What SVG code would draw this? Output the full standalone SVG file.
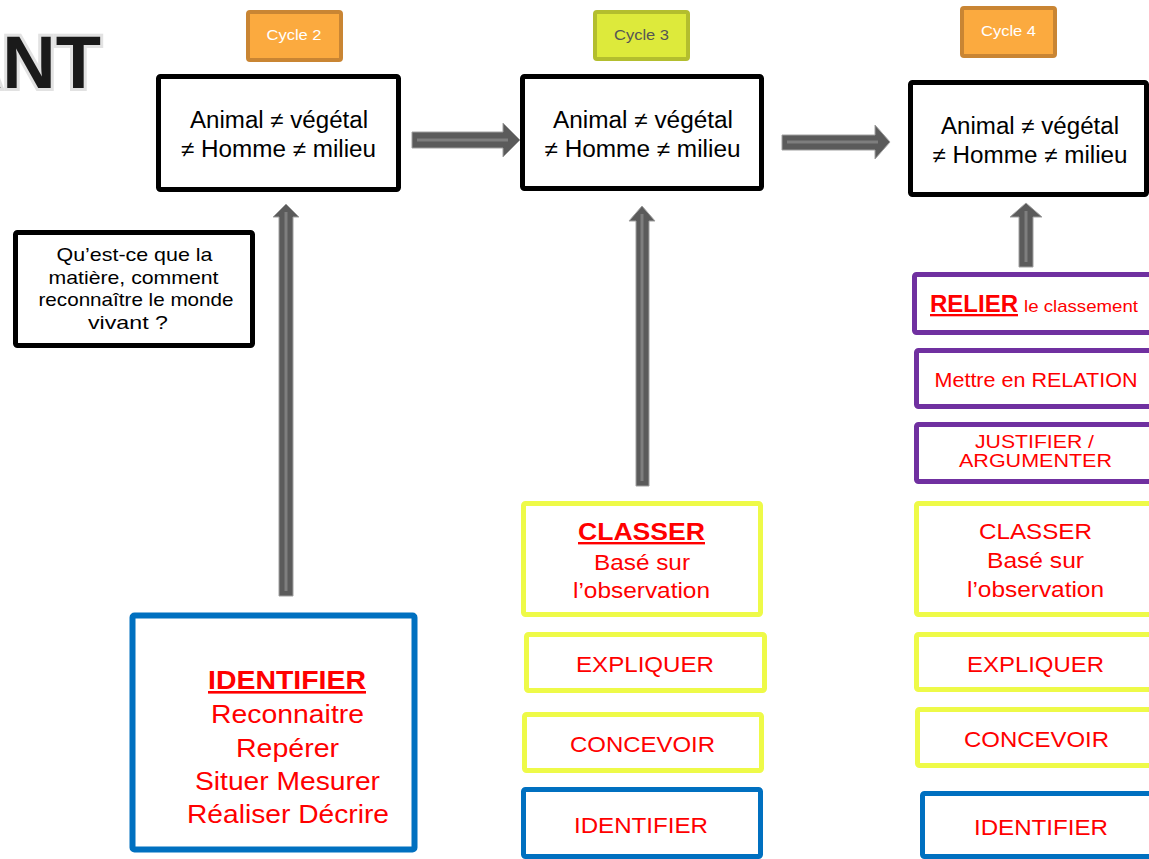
<svg xmlns="http://www.w3.org/2000/svg" width="1149" height="859" viewBox="0 0 1149 859">
<style>
text{font-family:"Liberation Sans",Arial,sans-serif}
.blk{fill:#fff;stroke:#000;stroke-width:5}
.yel{fill:#fff;stroke:#EEFA48;stroke-width:5}
.blu{fill:#fff;stroke:#0070C0;stroke-width:5}
.pur{fill:#fff;stroke:#7030A0;stroke-width:5}
.cyc{fill:#FBAA3F;stroke:#C98533;stroke-width:4}
.cyc3{fill:#DDEA3B;stroke:#B3BE2E;stroke-width:4}
.ct{fill:#fff;font-size:14.5px;text-anchor:middle}
.bt{fill:#000;font-size:23px;text-anchor:middle}
.qt{fill:#000;font-size:19px;text-anchor:middle}
.rt{fill:#FF0000;text-anchor:middle}
.u{font-weight:bold;text-decoration:underline}
.arrow{fill:#5B5B5B;stroke:#A0A0A0;stroke-width:1}
.hl{stroke:#7E7E7E;stroke-width:3;fill:none}
</style>
<g id="title">
<text x="101" y="88" font-size="74" font-weight="bold" text-anchor="end" fill="none" stroke="#E2E2E2" stroke-width="6">ANT</text>
<text x="101" y="88" font-size="74" font-weight="bold" text-anchor="end" fill="#1A1A1A">ANT</text>
<text x="16" y="-1" font-size="60" font-weight="bold" fill="#1A1A1A">C</text>
</g>
<g id="connectors">
<polygon class="arrow" points="412,132 503,132 503,123 520,140 503,157 503,148 412,148"/>
<line class="hl" x1="417" y1="140" x2="508" y2="140"/>
<polygon class="arrow" points="782,135 875,135 875,125 890,142 875,159 875,150 782,150"/>
<line class="hl" x1="787" y1="142" x2="878" y2="142"/>
<polygon class="arrow" points="279,596 279,217 273,217 286,204 299,217 293,217 293,596"/>
<line class="hl" x1="286" y1="591" x2="286" y2="212"/>
<polygon class="arrow" points="636,486 636,221 629,221 642,206 655,221 649,221 649,486"/>
<line class="hl" x1="642" y1="481" x2="642" y2="214"/>
<polygon class="arrow" points="1019,267 1019,217 1010,217 1026,203 1042,217 1033,217 1033,267"/>
<line class="hl" x1="1026" y1="262" x2="1026" y2="211"/>
</g>
<g id="cycle2">
<rect class="cyc" x="248" y="12" width="93" height="48" rx="2"/>
<text class="ct" x="294" y="40" textLength="55" lengthAdjust="spacingAndGlyphs">Cycle 2</text>
</g>
<g id="cycle3">
<rect class="cyc3" x="595" y="12" width="93" height="47" rx="2"/>
<text class="ct" x="641.5" y="40" style="fill:#555" textLength="55" lengthAdjust="spacingAndGlyphs">Cycle 3</text>
</g>
<g id="cycle4">
<rect class="cyc" x="962" y="8" width="93" height="48" rx="2"/>
<text class="ct" x="1008.5" y="36" textLength="55" lengthAdjust="spacingAndGlyphs">Cycle 4</text>
</g>
<g id="box-c2">
<rect class="blk" x="158.5" y="76.5" width="240" height="113" rx="2"/>
<text class="bt" x="279" y="128" textLength="178" lengthAdjust="spacingAndGlyphs">Animal ≠ végétal</text>
<text class="bt" x="278.5" y="157" textLength="195" lengthAdjust="spacingAndGlyphs">≠ Homme ≠ milieu</text>
</g>
<g id="box-c3">
<rect class="blk" x="522.5" y="76.5" width="239" height="112" rx="2"/>
<text class="bt" x="643" y="128" textLength="180" lengthAdjust="spacingAndGlyphs">Animal ≠ végétal</text>
<text class="bt" x="642.5" y="157" textLength="196" lengthAdjust="spacingAndGlyphs">≠ Homme ≠ milieu</text>
</g>
<g id="box-c4">
<rect class="blk" x="910.5" y="82.5" width="236" height="112" rx="2"/>
<text class="bt" x="1030" y="134" textLength="178" lengthAdjust="spacingAndGlyphs">Animal ≠ végétal</text>
<text class="bt" x="1030" y="163" textLength="195" lengthAdjust="spacingAndGlyphs">≠ Homme ≠ milieu</text>
</g>
<g id="question">
<rect class="blk" x="15.5" y="232.5" width="237" height="113" rx="2"/>
<text class="qt" x="134.5" y="261" textLength="156" lengthAdjust="spacingAndGlyphs">Qu’est-ce que la</text>
<text class="qt" x="133.5" y="284" textLength="170" lengthAdjust="spacingAndGlyphs">matière, comment</text>
<text class="qt" x="136" y="306" textLength="195" lengthAdjust="spacingAndGlyphs">reconnaître le monde</text>
<text class="qt" x="128" y="329" textLength="80" lengthAdjust="spacingAndGlyphs">vivant ?</text>
</g>
<g id="identifier-c2">
<rect class="blu" x="132.5" y="615.5" width="282" height="234" rx="2" style="stroke-width:6"/>
<text class="rt u" x="287" y="689" font-size="26" textLength="158" lengthAdjust="spacingAndGlyphs">IDENTIFIER</text>
<text class="rt" x="287.5" y="723" font-size="26.5" textLength="153" lengthAdjust="spacingAndGlyphs">Reconnaitre</text>
<text class="rt" x="287.5" y="757" font-size="26.5" textLength="103" lengthAdjust="spacingAndGlyphs">Repérer</text>
<text class="rt" x="287.5" y="790" font-size="26.5" textLength="185" lengthAdjust="spacingAndGlyphs">Situer Mesurer</text>
<text class="rt" x="288" y="823" font-size="26.5" textLength="202" lengthAdjust="spacingAndGlyphs">Réaliser Décrire</text>
</g>
<g id="classer-c3">
<rect class="yel" x="523.5" y="503.5" width="237" height="111" rx="2"/>
<text class="rt u" x="641.5" y="540" font-size="24" textLength="127" lengthAdjust="spacingAndGlyphs">CLASSER</text>
<text class="rt" x="642" y="570" font-size="22.5" textLength="96" lengthAdjust="spacingAndGlyphs">Basé sur</text>
<text class="rt" x="641.5" y="598" font-size="22.5" textLength="137" lengthAdjust="spacingAndGlyphs">l’observation</text>
</g>
<g id="expliquer-c3">
<rect class="yel" x="526.5" y="634.5" width="238" height="56" rx="2"/>
<text class="rt" x="645" y="672" font-size="22.5" textLength="138" lengthAdjust="spacingAndGlyphs">EXPLIQUER</text>
</g>
<g id="concevoir-c3">
<rect class="yel" x="524.5" y="714.5" width="237" height="56" rx="2"/>
<text class="rt" x="642.5" y="752" font-size="22.5" textLength="145" lengthAdjust="spacingAndGlyphs">CONCEVOIR</text>
</g>
<g id="identifier-c3">
<rect class="blu" x="523.5" y="789.5" width="237" height="67" rx="2"/>
<text class="rt" x="641" y="833" font-size="22.5" textLength="134" lengthAdjust="spacingAndGlyphs">IDENTIFIER</text>
</g>
<g id="relier-c4">
<rect class="pur" x="914.5" y="274.5" width="240" height="58" rx="2"/>
<text class="u" x="930" y="312" fill="#FF0000" font-size="23" textLength="88" lengthAdjust="spacingAndGlyphs">RELIER</text>
<text x="1024" y="312" fill="#FF0000" font-size="17" textLength="114" lengthAdjust="spacingAndGlyphs">le classement</text>
</g>
<g id="relation-c4">
<rect class="pur" x="916.5" y="350.5" width="238" height="56" rx="2"/>
<text class="rt" x="1036" y="387" font-size="21" textLength="203" lengthAdjust="spacingAndGlyphs">Mettre en RELATION</text>
</g>
<g id="justifier-c4">
<rect class="pur" x="916.5" y="424.5" width="238" height="57" rx="2"/>
<text class="rt" x="1034.5" y="448" font-size="18.5" textLength="119" lengthAdjust="spacingAndGlyphs">JUSTIFIER /</text>
<text class="rt" x="1035.5" y="467" font-size="18.5" textLength="153" lengthAdjust="spacingAndGlyphs">ARGUMENTER</text>
</g>
<g id="classer-c4">
<rect class="yel" x="916.5" y="503.5" width="238" height="111" rx="2"/>
<text class="rt" x="1035.5" y="539" font-size="22.5" textLength="113" lengthAdjust="spacingAndGlyphs">CLASSER</text>
<text class="rt" x="1035.5" y="568" font-size="22.5" textLength="97" lengthAdjust="spacingAndGlyphs">Basé sur</text>
<text class="rt" x="1035.5" y="597" font-size="22.5" textLength="137" lengthAdjust="spacingAndGlyphs">l’observation</text>
</g>
<g id="expliquer-c4">
<rect class="yel" x="916.5" y="634.5" width="238" height="55" rx="2"/>
<text class="rt" x="1035.5" y="672" font-size="22.5" textLength="137" lengthAdjust="spacingAndGlyphs">EXPLIQUER</text>
</g>
<g id="concevoir-c4">
<rect class="yel" x="917.5" y="709.5" width="238" height="56" rx="2"/>
<text class="rt" x="1036.5" y="747" font-size="22.5" textLength="145" lengthAdjust="spacingAndGlyphs">CONCEVOIR</text>
</g>
<g id="identifier-c4">
<rect class="blu" x="922.5" y="793.5" width="236" height="63" rx="2"/>
<text class="rt" x="1041" y="835" font-size="22.5" textLength="134" lengthAdjust="spacingAndGlyphs">IDENTIFIER</text>
</g>
</svg>
